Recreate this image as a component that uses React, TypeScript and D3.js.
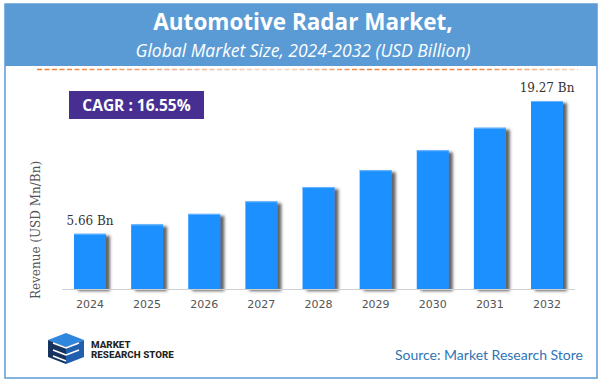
import * as d3 from "d3"

const years = ["2024", "2025", "2026", "2027", "2028", "2029", "2030", "2031", "2032"]
const revenue = [5.66, 6.62, 7.7, 8.98, 10.45, 12.18, 14.22, 16.53, 19.27]
const labelled = ["2024", "2032"]

const title = "Automotive Radar Market,"
const subtitle = "Global Market Size, 2024-2032 (USD Billion)"
const cagr = "CAGR :  16.55%"
const yTitle = "Revenue (USD Mn/Bn)"
const source = "Source: Market Research Store"

const W = 606
const H = 387
const baseY = 289
const topY = 101

export default function App() {
    const x = d3.scaleBand<string>()
        .domain(years)
        .range([62, 575])
        .paddingInner(0.44)
        .paddingOuter(0.21)

    const y = d3.scaleLinear()
        .domain([0, d3.max(revenue) ?? 1])
        .range([baseY, topY])

    const bars = years.map((yr, i) => ({ year: yr, value: revenue[i] }))

    return (
        <div style={{ position: "absolute", left: 0, top: 0 }}>
            <svg width={W} height={H} style={{ display: "block", background: "#fff" }}>
                <defs>
                    <filter id="shadow" x="-30%" y="-10%" width="160%" height="130%">
                        <feDropShadow dx="4" dy="2" stdDeviation="1.6" floodColor="#4a4a4a" floodOpacity="0.85" />
                    </filter>
                    <linearGradient id="dash" x1="37" x2="578" y1="0" y2="0" gradientUnits="userSpaceOnUse">
                        <stop offset="0" stopColor="#ed7d31" />
                        <stop offset="0.22" stopColor="#f4a878" />
                        <stop offset="0.45" stopColor="#fbd6bd" />
                        <stop offset="0.6" stopColor="#ef8440" />
                        <stop offset="0.82" stopColor="#f08a48" />
                        <stop offset="1" stopColor="#fbd2b5" />
                    </linearGradient>
                </defs>

                {/* frame + header */}
                <rect x={5} y={4} width={592} height={374} fill="#fff" stroke="#5b9bd5" strokeWidth={1.5} />
                <rect x={5} y={4} width={592} height={62} fill="#5b9bd5" />
                <text x={W / 2} y={30} textAnchor="middle" fill="#fff"
                    style={{ font: "700 22.5px 'Open Sans'" }}>{title}</text>
                <text x={W / 2} y={57} textAnchor="middle" fill="#fff"
                    style={{ font: "italic 400 17.5px 'Open Sans'" }}>{subtitle}</text>

                <line x1={37} x2={578} y1={69.5} y2={69.5} stroke="url(#dash)" strokeWidth={1.5}
                    strokeDasharray="5 2.5" />

                {/* CAGR badge */}
                <rect x={69} y={91} width={135} height={28} fill="#472f92" />
                <text x={136.5} y={110.5} textAnchor="middle" fill="#fff"
                    style={{ font: "700 15.5px 'Open Sans'" }}>{cagr}</text>

                {/* y title */}
                <text transform={`translate(40,230) rotate(-90)`} textAnchor="middle" fill="#555"
                    style={{ font: "400 12px 'DejaVu Serif'" }}>{yTitle}</text>

                {/* bars */}
                <g>
                    {bars.map(d => (
                        <g key={d.year}>
                            <rect x={x(d.year)} y={y(d.value)} width={x.bandwidth()}
                                height={baseY - y(d.value)} fill="#1e90ff" filter="url(#shadow)" />
                            <line x1={x(d.year)} x2={(x(d.year) ?? 0) + x.bandwidth()}
                                y1={y(d.value) + 0.5} y2={y(d.value) + 0.5} stroke="#6db6ff" />
                        </g>
                    ))}
                </g>

                {/* baseline */}
                <line x1={62} x2={575} y1={baseY + 0.5} y2={baseY + 0.5} stroke="#d0d0d0" strokeWidth={1} />

                {/* tick labels */}
                {years.map(yr => (
                    <text key={yr} x={(x(yr) ?? 0) + x.bandwidth() / 2} y={308} textAnchor="middle"
                        fill="#555" style={{ font: "400 11px 'DejaVu Sans'" }}>{yr}</text>
                ))}

                {/* value labels */}
                {bars.filter(d => labelled.includes(d.year)).map(d => (
                    <text key={d.year} x={(x(d.year) ?? 0) + x.bandwidth() / 2} y={y(d.value) - 9}
                        textAnchor="middle" fill="#333" style={{ font: "400 12px 'DejaVu Serif'" }}>
                        {d.value.toFixed(2)} Bn
                    </text>
                ))}

                {/* logo */}
                <g>
                    <polygon points="48,340 66,333 84,340 66,347" fill="#2f86de" />
                    <polygon points="48,340 66,347 66,364 48,357" fill="#16325f" />
                    <polygon points="66,347 84,340 84,357 66,364" fill="#1f5fae" />
                    <path d="M53,343 L66,348 L79,343 M53,350 L66,355 M66,355 L79,350 M53,356 L66,361"
                        stroke="#fff" strokeWidth={1.6} fill="none" />
                    <text x={91} y={348} fill="#222" style={{ font: "800 9.8px Roboto" }}>MARKET</text>
                    <text x={91} y={357.5} fill="#222" style={{ font: "800 9.8px Roboto" }}>RESEARCH STORE</text>
                </g>

                <text x={583} y={360} textAnchor="end" fill="#2e75b6"
                    style={{ font: "400 14px Lato" }}>{source}</text>
            </svg>
        </div>
    )
}
